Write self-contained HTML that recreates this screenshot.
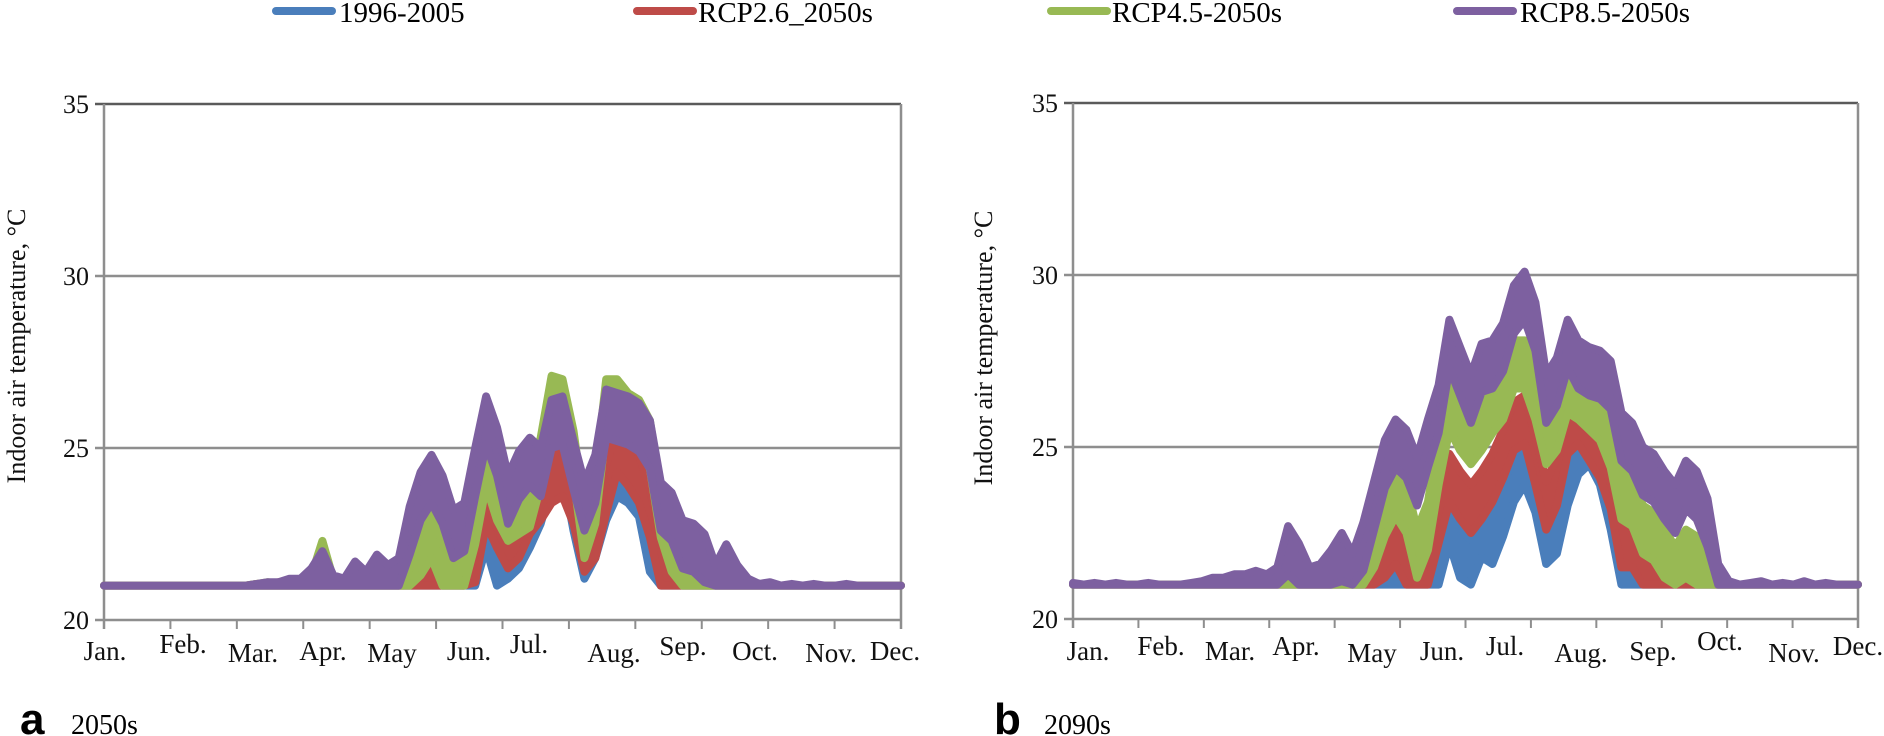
<!DOCTYPE html>
<html><head><meta charset="utf-8"><style>
html,body{margin:0;padding:0;background:#fff;}
svg{display:block;}
svg text{font-family:"Liberation Serif","Times New Roman",serif;}
</style></head><body>
<svg id="fig" width="1884" height="736" viewBox="0 0 1884 736" xmlns="http://www.w3.org/2000/svg" font-family="Liberation Serif, serif">
<g>
  <g><line x1="276" y1="11" x2="332" y2="11" stroke="#4a7ebb" stroke-width="8" stroke-linecap="round"/><text x="339" y="22" font-size="29" font-family="Liberation Serif, serif">1996-2005</text></g>
  <g><line x1="637" y1="11" x2="693" y2="11" stroke="#be4b48" stroke-width="8" stroke-linecap="round"/><text x="698" y="22" font-size="29" font-family="Liberation Serif, serif">RCP2.6_2050s</text></g>
  <g><line x1="1051" y1="11" x2="1107" y2="11" stroke="#98b954" stroke-width="8" stroke-linecap="round"/><text x="1112" y="22" font-size="29" font-family="Liberation Serif, serif">RCP4.5-2050s</text></g>
  <g><line x1="1457" y1="11" x2="1513" y2="11" stroke="#7d60a0" stroke-width="8" stroke-linecap="round"/><text x="1520" y="22" font-size="29" font-family="Liberation Serif, serif">RCP8.5-2050s</text></g>
</g>
<text x="20" y="734" font-family="Liberation Sans, sans-serif" style="font-family:'Liberation Sans',sans-serif" font-weight="bold" font-size="44">a</text>
<text x="71" y="734" font-size="28" font-family="Liberation Serif, serif">2050s</text>
<text x="994" y="734" font-family="Liberation Sans, sans-serif" style="font-family:'Liberation Sans',sans-serif" font-weight="bold" font-size="44">b</text>
<text x="1044" y="734" font-size="28" font-family="Liberation Serif, serif">2090s</text>
</svg>
<script>
// ---- data ----
const days = [];
for (let d = 0; d <= 365; d += 5) days.push(d); // 74 sample days
const monthNames = ["Jan.","Feb.","Mar.","Apr.","May","Jun.","Jul.","Aug.","Sep.","Oct.","Nov.","Dec."];
const yTicks = [20, 25, 30, 35];
const dailyRange = 1.4;
const seriesNames = ["1996-2005","RCP2.6","RCP4.5","RCP8.5"];
const seriesColors = ["#4a7ebb","#be4b48","#98b954","#7d60a0"];

// panel a (2050s) upper envelope, days 0..365 step 5
const a_base = [21,21,21,21,21,21,21,21,21,21,21,21,21,21,21,21,21,21,21,21,21.5,21,21,21,21,21,21,21,21.3,21.5,21.7,21.2,21.1,21.1,22.0,23.5,22.2,22.6,22.9,23.5,24.2,25.3,25.7,24.0,22.6,23.2,24.3,25.0,24.8,24.4,22.8,21.6,21.4,21.3,21.2,21.0,21,21,21,21,21,21,21,21,21,21,21,21,21,21,21,21,21,21];
const a_rcp26 = [21,21,21,21,21,21,21,21,21,21,21,21,21,21,21.05,21.05,21.1,21.1,21.1,21.2,21.9,21.1,21.1,21.1,21.1,21,21,21,21.4,21.7,21.8,21.3,21.2,21.5,22.5,24.2,23.5,22.9,23.2,23.9,24.3,24.8,25.0,24.2,22.8,23.2,24.5,25.7,25.3,24.8,23.8,22.4,22.4,21.8,21.5,21.3,21.2,21.4,21.0,21,21,21,21,21,21,21,21,21,21,21,21,21,21,21];
const a_rcp45 = [21,21,21,21,21,21,21,21,21,21,21,21,21,21,21.05,21.1,21.05,21.1,21.2,21.3,22.3,21.2,21.1,21.1,21.1,21.0,21.0,21.0,21.5,22.7,23.2,22.2,21.7,22.0,23.6,25.3,24.3,23.7,23.9,24.1,25.3,27.1,27.0,25.5,23.2,24.2,27.0,27.0,26.6,26.4,25.8,23.8,22.8,22.4,22.2,21.9,21.4,21.6,21.0,21,21,21,21,21,21,21,21,21,21,21,21,21,21,21];
const a_rcp85 = [21,21,21,21,21,21,21,21,21,21,21,21,21,21,21.05,21.1,21.1,21.2,21.2,21.5,22.0,21.3,21.2,21.7,21.4,21.9,21.6,21.8,23.3,24.3,24.8,24.2,23.2,23.4,25.0,26.5,25.6,24.2,24.9,25.3,25.0,26.4,26.5,25.2,24.0,24.8,26.7,26.6,26.5,26.3,25.8,24.0,23.7,22.9,22.8,22.5,21.6,22.2,21.6,21.2,21.05,21.1,21.0,21.05,21.0,21.05,21.0,21.0,21.05,21,21,21,21,21];

// panel b (2090s)
const b_base = [21,21,21,21,21,21,21,21,21,21,21,21,21,21,21,21,21,21,21,21,21,21,21,21,21,21,21,21,21.2,21.4,21.6,21.4,21.2,21.2,21.8,23.6,22.6,22.3,23.2,23.0,23.8,24.8,25.3,24.5,23.0,23.3,24.7,25.6,25.9,25.3,24.0,22.2,21.6,21.3,21.2,21.1,21.1,21.2,21.0,21,21,21,21,21,21,21,21,21,21,21,21,21,21,21];
const b_rcp26 = [21,21,21,21,21,21,21,21,21,21,21,21,21,21,21,21,21,21,21,21,21,21,21,21,21,21,21,21.3,22.1,22.6,23.0,22.4,21.9,22.3,23.6,24.8,24.3,23.9,24.3,24.8,25.5,26.3,26.5,25.3,24.0,24.7,26.2,26.5,26.0,25.5,24.6,22.9,22.9,22.2,22.2,21.6,21.4,21.7,21.6,21.1,21.0,21,21,21,21,21,21,21,21,21,21,21,21,21];
const b_rcp45 = [21,21,21,21,21,21,21,21,21,21,21,21,21,21,21,21,21,21,21,21,21.9,21.1,21.1,21.1,21.4,21.1,21.1,21.8,22.9,23.8,24.4,23.9,22.6,23.4,25.3,26.9,26.3,25.9,26.3,26.8,27.2,28.1,28.1,27.2,25.9,26.3,27.4,27.2,26.9,26.6,25.8,24.3,24.1,23.3,23.1,22.6,22.1,22.6,22.4,21.6,21.0,21,21,21,21,21,21,21,21,21,21,21,21,21];
const b_rcp85 = [21.05,21,21.05,21,21.05,21,21,21.05,21,21,21,21.05,21.1,21.2,21.2,21.3,21.3,21.4,21.3,21.5,22.7,22.2,21.5,21.6,22.0,22.5,21.9,22.8,24.0,25.2,25.8,25.5,24.7,25.8,26.8,28.7,27.9,27.1,28.0,28.1,28.6,29.7,30.1,29.2,27.1,27.6,28.7,28.1,27.9,27.8,27.5,26.0,25.7,25.0,24.8,24.3,23.9,24.6,24.3,23.5,21.6,21.1,21.0,21.05,21.1,21.0,21.05,21.0,21.1,21.0,21.05,21,21,21];

const panelA = [a_base, a_rcp26, a_rcp45, a_rcp85];
const panelB = [b_base, b_rcp26, b_rcp45, b_rcp85];

// ---- layout (not data) ----
const panels = [
  {key:"a", x0:104, x1:901, y20:620, y35:104, data:panelA, titleX:16, titleY:346,
   labelX:[105,183,253,323,392,469,529,614,683,755,831,895], labelY:[660,653,662,660,662,660,653,662,655,660,662,660]},
  {key:"b", x0:1073, x1:1858, y20:619, y35:103, data:panelB, titleX:983, titleY:348,
   labelX:[1088,1161,1230,1296,1372,1442,1505,1581,1653,1720,1794,1858], labelY:[660,655,660,655,662,660,655,662,660,650,662,655]}
];
const NS = "http://www.w3.org/2000/svg";
const svg = document.getElementById("fig");
const SERIF = "Liberation Serif, serif";
function mk(tag, attrs, parent){ const e=document.createElementNS(NS,tag); for(const k in attrs) e.setAttribute(k,attrs[k]); (parent||svg).appendChild(e); return e; }

panels.forEach(p => {
  const xs = d => p.x0 + (p.x1 - p.x0) * d / 365;
  const ys = v => p.y20 - (p.y20 - p.y35) * (v - 20) / 15;
  const g = mk("g", {});
  
  

  yTicks.forEach(t => {
    const l = mk("line", {x1:p.x0-9, x2:p.x1, y1:ys(t), y2:ys(t), stroke: t===35 ? "#5a5a5a" : "#8e8e8e", "stroke-width":2.5}, g);
    
    
    const tx = mk("text", {x:p.x0-15, y:ys(t)+9, "font-size":26, "text-anchor":"end", fill:"#111", "font-family":SERIF}, g);
    tx.textContent = t;
    
    
  });
  const ax = mk("line", {x1:p.x0, x2:p.x0, y1:p.y35, y2:p.y20+9, stroke:"#8e8e8e", "stroke-width":2.5}, g);
  
  
  const rb = mk("line", {x1:p.x1, x2:p.x1, y1:p.y35, y2:p.y20+9, stroke:"#8e8e8e", "stroke-width":2.5}, g);
  
  
  for (let i = 0; i <= 12; i++) {
    const x = p.x0 + (p.x1 - p.x0) * i / 12;
    const tk = mk("line", {x1:x, x2:x, y1:p.y20, y2:p.y20+9, stroke:"#8e8e8e", "stroke-width":2}, g);
    
    
  }
  monthNames.forEach((m, i) => {
    const t = mk("text", {x:p.labelX[i], y:p.labelY[i], "font-size":27, "text-anchor":"middle", fill:"#111", "font-family":SERIF}, g);
    t.textContent = m;
    
    
  });
  const yt = mk("text", {x:0, y:0, "font-size":26, "text-anchor":"middle", transform:`translate(${p.titleX+9},${p.titleY}) rotate(-90)`, fill:"#111", "font-family":SERIF}, g);
  yt.textContent = "Indoor air temperature, °C";
  
  

  p.data.forEach((vals, si) => {
    const up = days.map((d, i) => [xs(Math.min(d,365)), ys(vals[i])]);
    const lo = days.map((d, i) => [xs(Math.min(d,365)), ys(Math.max(21, vals[i] - dailyRange))]).reverse();
    const pts = up.concat(lo).map(q => q[0].toFixed(1) + "," + q[1].toFixed(1)).join(" ");
    const poly = mk("polygon", {points:pts, fill:seriesColors[si], stroke:seriesColors[si], "stroke-width":8, "stroke-linejoin":"round"}, g);
    
    
  });
});
</script>
</body></html>
